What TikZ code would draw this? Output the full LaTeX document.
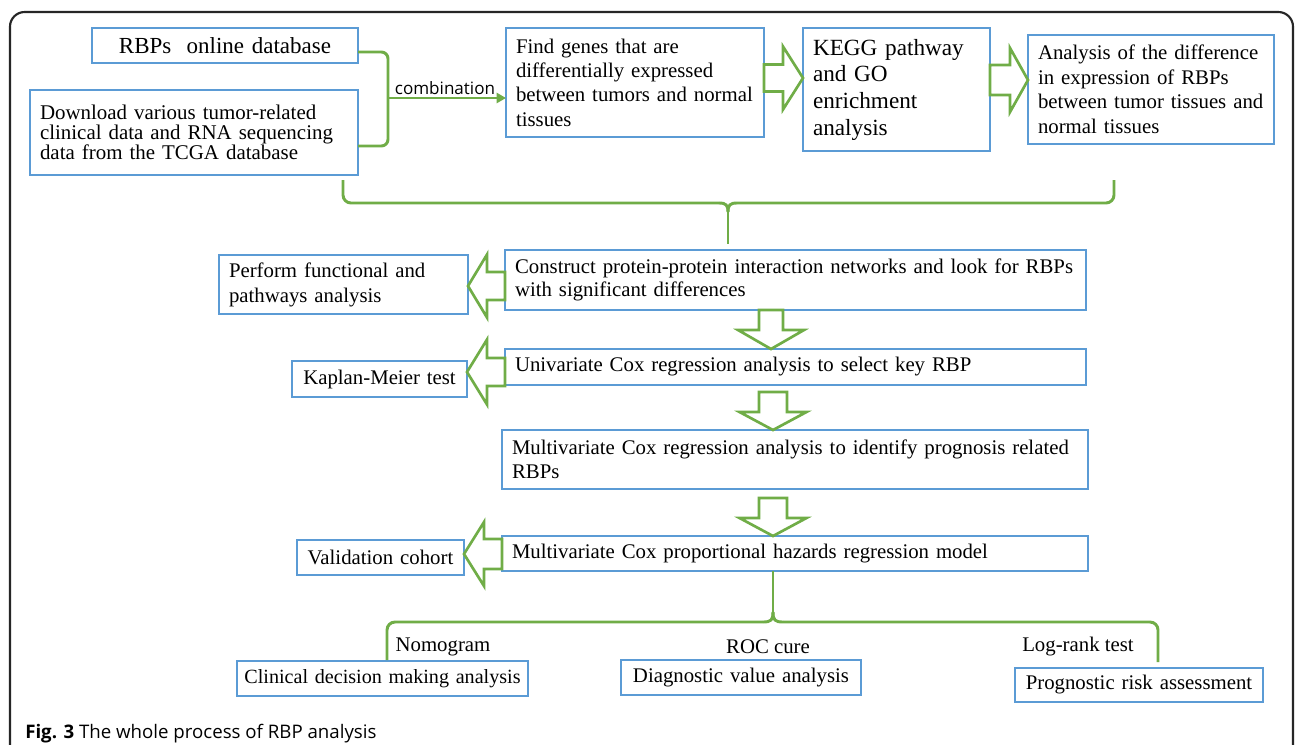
\documentclass[tikz,border=0pt]{standalone}
\usepackage{fontspec}
\setmainfont{Liberation Serif}
\newfontfamily\capfont{Open Sans}
\usetikzlibrary{calc,arrows.meta}
\definecolor{bblue}{RGB}{91,155,213}
\definecolor{ggreen}{RGB}{112,173,71}
\tikzset{
  box/.style={draw=bblue, line width=2pt, fill=white, inner xsep=7.5pt, inner ysep=0pt,
    outer sep=0pt, anchor=north west, align=left, font=\fontsize{15.6}{18}\selectfont},
  grn/.style={draw=ggreen, line width=2.2pt},
  blk/.style={draw=ggreen, line width=2pt, fill=white, line join=miter},
  lbl/.style={font=\fontsize{15.6}{18}\selectfont, inner sep=0pt},
}
\newcommand\myharr[5]{%
  \draw[blk] ($(#1)+(0,-#4)$) -- ($(#2)+(#3,-#4)$) -- ($(#2)+(#3,-#5)$) -- (#2)
    -- ($(#2)+(#3,#5)$) -- ($(#2)+(#3,#4)$) -- ($(#1)+(0,#4)$) -- cycle;}
\newcommand\myvarr[5]{%
  \draw[blk] ($(#1)+(-#4,0)$) -- ($(#2)+(-#4,#3)$) -- ($(#2)+(-#5,#3)$) -- (#2)
    -- ($(#2)+(#5,#3)$) -- ($(#2)+(#4,#3)$) -- ($(#1)+(#4,0)$) -- cycle;}
\begin{document}
\begin{tikzpicture}[x=0.75pt,y=-0.75pt]
\useasboundingbox (0,0) rectangle (1295,744);
\fill[white] (0,0) rectangle (1295,744);
\draw[line width=1.6pt, rounded corners=11pt, draw=black!85] (10,12) rectangle (1293,775);

% boxes
\node[box, minimum width=199.5pt, minimum height=26.25pt, text width=184.5pt, align=center,
  font=\fontsize{17.25}{20}\selectfont] (b1) at (92,28) {RBPs\ \ online database};
\node[box, minimum width=246pt, minimum height=63.75pt, text width=231pt,
  font=\fontsize{15.7}{15}\selectfont] (b2) at (30,90)
  {Download various tumor-related\\clinical data and RNA sequencing\\data from the TCGA database};
\node[box, minimum width=193.5pt, minimum height=81.75pt, text width=178.5pt,
  font=\fontsize{15.6}{18.2}\selectfont] (b3) at (506,28)
  {Find genes that are\\differentially expressed\\between tumors and normal\\tissues};
\node[box, minimum width=140.25pt, minimum height=92.25pt, text width=125.25pt,
  font=\fontsize{17.4}{20}\selectfont] (kg) at (803,28)
  {KEGG pathway\\and GO\\enrichment\\analysis};
\node[box, minimum width=184.5pt, minimum height=81.75pt, text width=169.5pt,
  font=\fontsize{15.6}{18.4}\selectfont] (b4) at (1028,35)
  {Analysis of the difference\\in expression of RBPs\\between tumor tissues and\\normal tissues};
\node[box, minimum width=186.75pt, minimum height=44.25pt, text width=171.75pt,
  font=\fontsize{15.6}{18.75}\selectfont] (pf) at (219,255)
  {Perform functional and\\pathways analysis};
\node[box, minimum width=435.75pt, minimum height=45pt, text width=420.75pt,
  font=\fontsize{15.6}{17.25}\selectfont] (b5) at (505,250)
  {Construct protein-protein interaction networks and look for RBPs\\with significant differences};
\node[box, minimum width=131.25pt, minimum height=27pt, inner xsep=3pt, text width=125.25pt, align=center] (km) at (292,361)
  {Kaplan-Meier test};
\node[box, minimum width=435.75pt, minimum height=27pt, text width=420.75pt] (b6) at (505,349)
  {Univariate Cox regression analysis to select key RBP};
\node[box, minimum width=439.5pt, minimum height=44.25pt, text width=424.5pt] (b7) at (502,430)
  {Multivariate Cox regression analysis to identify prognosis related\\RBPs};
\node[box, minimum width=125.25pt, minimum height=26.25pt, inner xsep=3pt, text width=119.25pt, align=center] (vc) at (297,540)
  {Validation cohort};
\node[box, minimum width=439.5pt, minimum height=26.25pt, text width=424.5pt] (b8) at (502,536)
  {Multivariate Cox proportional hazards regression model};
\node[box, minimum width=218.25pt, minimum height=26.25pt, inner xsep=2pt, text width=214.25pt, align=center,
  font=\fontsize{15.1}{18}\selectfont] (cl) at (237,661)
  {Clinical decision making analysis};
\node[box, minimum width=180pt, minimum height=26.25pt, inner xsep=3pt, text width=174pt, align=center] (dg) at (621,660)
  {Diagnostic value analysis};
\node[box, minimum width=186pt, minimum height=25.5pt, inner xsep=3pt, text width=180pt, align=center] (pr) at (1015,668)
  {Prognostic risk assessment};

% labels
\node[font=\capfont\fontsize{12.8}{14}\selectfont, inner sep=0pt, anchor=base] (comb) at (445,94) {combination};
\node[lbl] (nomo) at (443,647) {Nomogram};
\node[lbl] (roc) at (768,647) {ROC cure};
\node[lbl] (lr) at (1078,647) {Log-rank test};
\node[anchor=base west, inner sep=0pt, font=\capfont\fontsize{14}{16}\selectfont] (cap) at (25,738)
  {\textbf{Fig. 3} The whole process of RBP analysis};

% combination bracket
\coordinate (ca) at (0,52);
\coordinate (cb) at (0,146);
\coordinate (jc) at (388,98);
\draw[grn, rounded corners=5pt] (b1.east|-ca) -| (jc) |- (b2.east|-cb);
\draw[grn, -{Triangle[length=7pt,width=7.5pt]}] (jc) -- (b3.west|-jc);

% block arrows (horizontal)
\coordinate (ya) at (0,78);
\coordinate (yb) at (0,80);
\coordinate (yc) at (0,286);
\coordinate (yd) at (0,372);
\coordinate (ye) at (0,554);
\myharr{b3.east|-ya}{kg.west|-ya}{-20}{13.5}{31.5}
\myharr{kg.east|-yb}{b4.west|-yb}{-18}{15}{32}
\myharr{b5.west|-yc}{pf.east|-yc}{19}{14}{31.5}
\myharr{b6.west|-yd}{km.east|-yd}{20}{14}{32.5}
\myharr{b8.west|-ye}{vc.east|-ye}{20}{15}{32}

% block arrows (down)
\coordinate (xa) at (771,0);
\coordinate (xb) at (773,0);
\coordinate (d1t) at (b5.south-|xa);
\coordinate (d1h) at (b6.north-|xa);
\coordinate (d2t) at ($(b6.south-|xb)+(0,7)$);
\coordinate (d2h) at (b7.north-|xb);
\coordinate (d3t) at ($(b7.south-|xb)+(0,9)$);
\coordinate (d3h) at (b8.north-|xb);
\myvarr{d1t}{d1h}{-19}{12}{33}
\myvarr{d2t}{d2h}{-18}{14}{33.5}
\myvarr{d3t}{d3h}{-18}{14}{33.5}

% top brace
\coordinate (tl) at (343,180);
\coordinate (tr) at (1114,180);
\coordinate (tm) at (728,203);
\coordinate (tstem) at ($(b5.north-|tm)+(0,-6)$);
\draw[grn, rounded corners=6pt] (tl) -- (tl|-tm) -- ($(tm)+(-9,0)$);
\draw[grn, rounded corners=6pt] (tr) -- (tr|-tm) -- ($(tm)+(9,0)$);
\draw[grn] ($(tm)+(-9,0)$) .. controls ($(tm)+(-2,0)$) and ($(tm)+(0,2)$) .. ($(tm)+(0,9)$);
\draw[grn] ($(tm)+(9,0)$) .. controls ($(tm)+(2,0)$) and ($(tm)+(0,2)$) .. ($(tm)+(0,9)$);
\draw[grn] ($(tm)+(0,9)$) -- (tstem);

% bottom brace
\coordinate (bm) at (773,622);
\coordinate (bl) at (387,660);
\coordinate (br) at (1158,662);
\draw[grn] (b8.south-|bm) -- ($(bm)+(0,-10)$);
\draw[grn] ($(bm)+(0,-10)$) .. controls ($(bm)+(0,-2)$) and ($(bm)+(-2,0)$) .. ($(bm)+(-10,0)$);
\draw[grn] ($(bm)+(0,-10)$) .. controls ($(bm)+(0,-2)$) and ($(bm)+(2,0)$) .. ($(bm)+(10,0)$);
\draw[grn, rounded corners=6pt] ($(bm)+(-10,0)$) -- (bl|-bm) -- (bl);
\draw[grn, rounded corners=6pt] ($(bm)+(10,0)$) -- (br|-bm) -- (br);
\end{tikzpicture}
\end{document}
